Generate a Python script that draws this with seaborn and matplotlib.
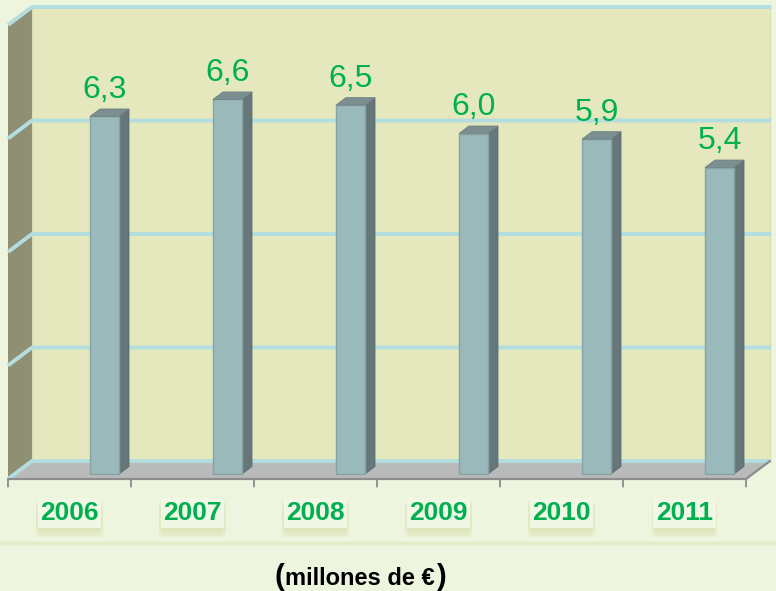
import matplotlib
matplotlib.use('Agg')
import matplotlib.pyplot as plt
import seaborn as sns
from matplotlib.patches import Polygon
from matplotlib import patheffects as pe

# datos
years = ['2006', '2007', '2008', '2009', '2010', '2011']
values = [6.3, 6.6, 6.5, 6.0, 5.9, 5.4]
grid_values = [0, 2, 4, 6, 8]
unit_text = 'millones de €'

# colores
bg = '#eef5df'
wall_back = '#e5e8bd'
wall_left = '#8e8f73'
floor_col = '#b9baba'
grid_col = '#b4dde0'
axis_col = '#8c8c8c'
bar_front = '#9ab9bb'
bar_side = '#657779'
bar_top = '#7c8f90'
green = '#00b050'

sns.set_theme(style='white')
plt.rcParams['font.family'] = ['Liberation Sans', 'DejaVu Sans']

# geometría 3D (profundidad 0 = borde frontal del suelo, 1 = pared del fondo)
DX = 24 / 123
DY = 18 / 56.75
D_FRONT, D_BACK = 0.278, 0.694
SLOT_SHIFT = -0.2846


def proj(u, v, d):
    return (u + SLOT_SHIFT + d * DX, v + (d - D_FRONT) * DY)


fig = plt.figure(figsize=(7.76, 5.91), dpi=100, facecolor=bg)
ax = fig.add_axes([0, 0, 1, 1])

n = len(years)
u0, u1 = -0.5, n - 0.5
vmax = grid_values[-1]

# paredes y suelo
left = [proj(u0, 0, 0), proj(u0, 0, 1), proj(u0, vmax, 1), proj(u0, vmax, 0)]
back = [proj(u0, 0, 1), proj(u1, 0, 1), proj(u1, vmax, 1), proj(u0, vmax, 1)]
floor = [proj(u0, 0, 0), proj(u1, 0, 0), proj(u1, 0, 1), proj(u0, 0, 1)]
ax.add_patch(Polygon(left, closed=True, fc=wall_left, ec='none', zorder=0.5))
ax.add_patch(Polygon(back, closed=True, fc=wall_back, ec='#d9dcb2', lw=0.8, zorder=0.5))
ax.add_patch(Polygon(floor, closed=True, fc=floor_col, ec='none', zorder=1))

# líneas de cuadrícula
for g in grid_values:
    pts = [proj(u0, g, 0), proj(u0, g, 1), proj(u1 + 0.01, g, 1)]
    ax.plot([p[0] for p in pts], [p[1] for p in pts], color=grid_col, lw=2.8,
            solid_capstyle='butt', zorder=1.5)

# eje frontal y marcas
pts = [proj(u0, 0, 0), proj(u1, 0, 0), proj(u1, 0, 1)]
ax.plot([p[0] for p in pts], [p[1] for p in pts], color=axis_col, lw=1.6, zorder=2)
for k in range(n + 1):
    x, y = proj(u0 + k, 0, 0)
    ax.annotate('', xy=(x, y), xytext=(0, -5.5), textcoords='offset points',
                arrowprops=dict(arrowstyle='-', color=axis_col, lw=1.3,
                                shrinkA=0, shrinkB=0))

# barras
sns.barplot(x=years, y=values, color=bar_front, saturation=1, width=0.236,
            edgecolor='#86a4a6', linewidth=1, ax=ax, zorder=4)
bdx = (D_BACK - D_FRONT) * DX
bdy = (D_BACK - D_FRONT) * DY
for p, v in zip(ax.patches[3:], values):
    x0, w, h = p.get_x(), p.get_width(), p.get_height()
    side = [(x0 + w, 0), (x0 + w + bdx, bdy), (x0 + w + bdx, h + bdy), (x0 + w, h)]
    top = [(x0, h), (x0 + bdx, h + bdy), (x0 + w + bdx, h + bdy), (x0 + w, h)]
    ax.add_patch(Polygon(side, closed=True, fc=bar_side, ec='#5b6c6e', lw=0.6, zorder=3.9))
    ax.add_patch(Polygon(top, closed=True, fc=bar_top, ec='#6f8283', lw=0.6, zorder=4.1))
    ax.annotate(f'{v:.1f}'.replace('.', ','), xy=(x0 + w / 2, h), xytext=(0, 13),
                textcoords='offset points', ha='center', va='baseline',
                fontsize=23, color=green, zorder=5)

# etiquetas de años
for i, yr in enumerate(years):
    t = ax.annotate(yr, xy=proj(i, 0, 0), xytext=(0, -29.5), textcoords='offset points',
                    ha='center', va='baseline', fontsize=19, fontweight='bold',
                    color=green, zorder=5,
                    bbox=dict(boxstyle='square,pad=0.1', fc='#f0f7e4', ec='none'))
    shadows = [pe.SimplePatchShadow(offset=(dx, -k), shadow_rgbFace='#dde2b2', alpha=0.1)
               for k in (1, 2, 3, 4, 5, 6, 7) for dx in (-1, 1)]
    t.get_bbox_patch().set_path_effects(shadows + [pe.Normal()])

ax.set_xlim(-104.5 / 123, (776 - 104.5) / 123)
ax.set_ylim((474 - 591) / 56.75, 474 / 56.75)
ax.axis('off')

# franja inferior
fig.add_artist(plt.Line2D([0, 1], [1 - 543 / 591] * 2, transform=fig.transFigure,
                          color='#e3ebc8', lw=2.5))

# texto de unidades
yb = 1 - 585 / 591
mid = fig.text(360 / 776, yb, unit_text, ha='center', va='baseline',
               fontsize=17, fontweight='bold', color='black')
ax.annotate('(', xy=(0, yb), xycoords=(mid, 'figure fraction'), xytext=(-1, 0),
            textcoords='offset points', ha='right', va='baseline',
            fontsize=21, fontweight='bold', color='black', annotation_clip=False)
ax.annotate(')', xy=(1, yb), xycoords=(mid, 'figure fraction'), xytext=(1, 0),
            textcoords='offset points', ha='left', va='baseline',
            fontsize=21, fontweight='bold', color='black', annotation_clip=False)

fig.savefig('out.png', dpi=100, facecolor=bg)
